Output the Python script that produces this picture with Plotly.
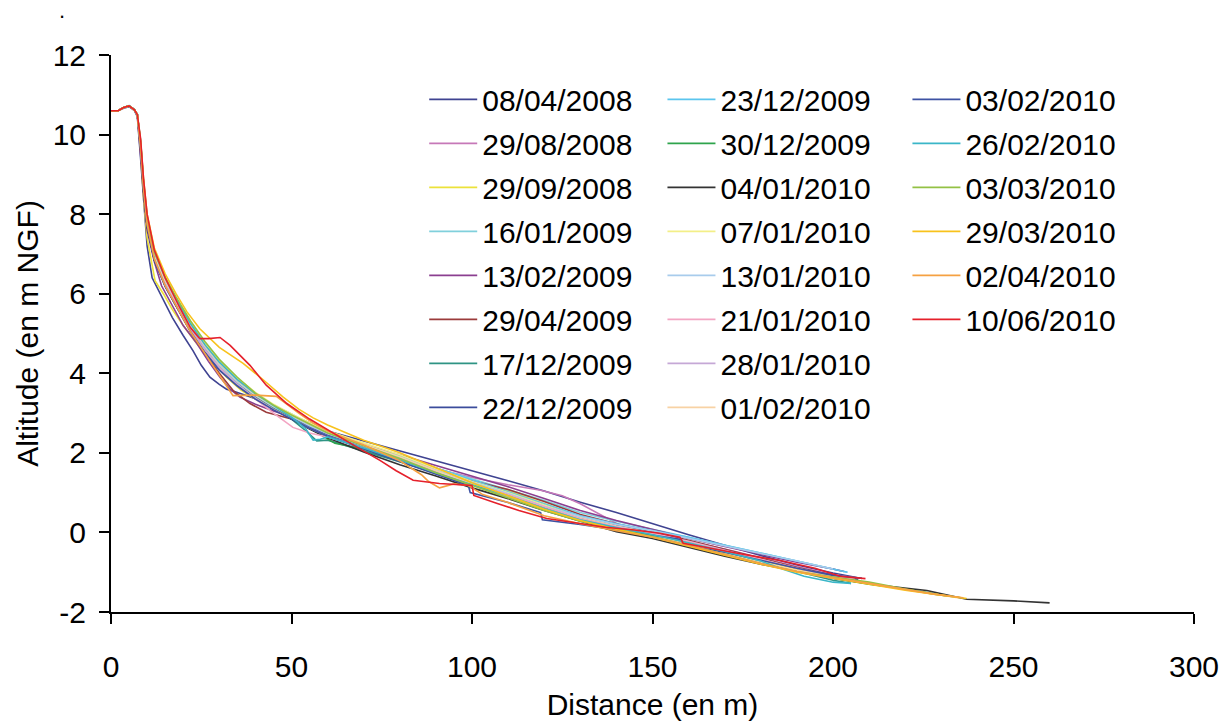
import plotly.graph_objects as go

dates = ["08/04/2008", "29/08/2008", "29/09/2008", "16/01/2009", "13/02/2009", "29/04/2009",
         "17/12/2009", "22/12/2009", "23/12/2009", "30/12/2009", "04/01/2010", "07/01/2010",
         "13/01/2010", "21/01/2010", "28/01/2010", "01/02/2010", "03/02/2010", "26/02/2010",
         "03/03/2010", "29/03/2010", "02/04/2010", "10/06/2010"]

colors = ["#3f4391", "#c678b8", "#ece23a", "#80d0dc", "#8b3f90", "#9b3b3b",
          "#2e9484", "#3b4c9c", "#5bc5ee", "#2ea44c", "#333333", "#f3ef88",
          "#a8ccec", "#f3a5c3", "#c5a8d6", "#f8d2a4", "#3d52a3", "#3ab6c8",
          "#93c145", "#f8c21c", "#f5a142", "#e5202b"]

x_01 = [0, 2, 3.5, 5, 6.5, 7.3, 8.2, 9, 10, 11.4, 13.6, 17, 20, 22.7, 25, 27.4, 30, 32, 34, 38, 42, 46, 50, 55, 60, 70, 80, 90, 100, 110, 120, 130, 140, 150, 160, 170, 180, 190, 200, 208]
y_01 = [10.6, 10.6, 10.66, 10.7, 10.6, 10.45, 9.4, 8.3, 7.2, 6.4, 6.0, 5.4, 4.95, 4.57, 4.2, 3.9, 3.72, 3.6, 3.55, 3.42, 3.3, 3.12, 2.95, 2.75, 2.55, 2.3, 2.06, 1.81, 1.56, 1.3, 1.04, 0.76, 0.5, 0.22, -0.06, -0.32, -0.58, -0.82, -1.02, -1.16]

x_02 = [0, 2, 3.5, 5, 6.5, 7.3, 8.2, 9, 10, 12, 15, 18, 22, 26, 30, 35, 40, 45, 50, 55, 60, 70, 80, 90, 100, 110, 119, 125, 130, 135, 141, 150, 160, 170, 180, 190, 200, 207]
y_02 = [10.6, 10.6, 10.68, 10.72, 10.62, 10.5, 9.8, 8.8, 7.9, 7.0, 6.3, 5.75, 5.1, 4.55, 4.1, 3.7, 3.35, 3.1, 2.85, 2.62, 2.42, 2.12, 1.85, 1.6, 1.38, 1.2, 1.06, 0.92, 0.72, 0.48, 0.18, -0.02, -0.22, -0.42, -0.64, -0.86, -1.06, -1.15]

x_03 = [0, 2, 3.5, 5, 6.5, 7.3, 8.2, 9, 10, 12.2, 14.5, 17, 20, 24, 28, 32, 36, 40, 45, 50, 55, 60, 70, 80, 90, 100, 110, 120, 130, 140, 150, 160, 170, 180, 190, 200, 206]
y_03 = [10.6, 10.6, 10.68, 10.72, 10.62, 10.5, 9.6, 8.4, 7.4, 6.33, 6.0, 5.6, 5.2, 4.72, 4.3, 3.9, 3.58, 3.35, 3.12, 2.95, 2.75, 2.55, 2.22, 1.92, 1.62, 1.32, 1.05, 0.72, 0.4, 0.15, -0.05, -0.25, -0.48, -0.7, -0.92, -1.12, -1.2]

x_04 = [0, 2, 3.5, 5, 6.5, 7.3, 8.2, 9, 10, 12, 15, 18, 22, 26, 30, 35, 40, 45, 50, 55, 60, 70, 80, 90, 100, 110, 120, 130, 140, 150, 160, 170, 180, 190, 200, 204]
y_04 = [10.6, 10.6, 10.68, 10.73, 10.63, 10.5, 9.7, 8.7, 7.8, 6.95, 6.3, 5.8, 5.2, 4.7, 4.25, 3.8, 3.45, 3.18, 2.95, 2.72, 2.52, 2.2, 1.9, 1.62, 1.35, 1.08, 0.8, 0.5, 0.28, 0.08, -0.12, -0.32, -0.52, -0.72, -0.92, -1.0]

x_05 = [0, 2, 3.5, 5, 6.5, 7.3, 8.2, 9, 10, 12, 14, 17.2, 20, 23.8, 27, 30.2, 33, 35.7, 40, 45, 50, 55, 60, 70, 80, 90, 100, 110, 120, 130, 140, 150, 160, 170, 180, 190, 200, 203]
y_05 = [10.6, 10.6, 10.68, 10.72, 10.62, 10.48, 9.5, 8.5, 7.6, 6.8, 6.2, 5.65, 5.2, 4.75, 4.3, 3.9, 3.6, 3.4, 3.22, 3.05, 2.9, 2.68, 2.5, 2.2, 1.95, 1.68, 1.42, 1.15, 0.85, 0.55, 0.3, 0.08, -0.15, -0.35, -0.55, -0.75, -0.92, -0.98]

x_06 = [0, 2, 3.5, 5, 6.5, 7.3, 8.2, 9, 10, 12, 15, 18, 22, 26, 30, 34, 38.5, 43, 47, 50, 55, 60, 70, 80, 90, 100, 110, 120, 130, 140, 150, 160, 170, 180, 190, 200, 206]
y_06 = [10.6, 10.6, 10.68, 10.72, 10.62, 10.5, 9.6, 8.6, 7.7, 6.9, 6.2, 5.7, 5.05, 4.5, 4.0, 3.55, 3.24, 3.02, 2.92, 2.85, 2.65, 2.45, 2.15, 1.85, 1.55, 1.3, 1.08, 0.78, 0.45, 0.22, 0.02, -0.2, -0.42, -0.65, -0.88, -1.08, -1.15]

x_07 = [0, 2, 3.5, 5, 6.5, 7.3, 8.2, 9, 10, 12, 15, 18, 22, 26, 30, 35, 40, 45, 50, 54, 57, 60, 70, 80, 90, 100, 110, 120, 130, 140, 150, 160, 170, 180, 190, 200, 205]
y_07 = [10.6, 10.6, 10.68, 10.72, 10.62, 10.5, 9.7, 8.7, 7.8, 6.95, 6.25, 5.75, 5.15, 4.62, 4.2, 3.78, 3.42, 3.12, 2.85, 2.55, 2.3, 2.32, 2.05, 1.78, 1.5, 1.22, 0.95, 0.62, 0.35, 0.15, -0.05, -0.25, -0.5, -0.75, -0.98, -1.2, -1.28]

x_08 = [0, 2, 3.5, 5, 6.5, 7.3, 8.2, 9, 10, 12, 15, 18, 22, 26, 30, 35, 40, 45, 50, 55, 60, 70, 80, 90, 100, 110, 120, 130, 140, 150, 160, 170, 180, 190, 200, 207]
y_08 = [10.6, 10.6, 10.68, 10.72, 10.62, 10.5, 9.7, 8.6, 7.7, 6.85, 6.2, 5.7, 5.1, 4.55, 4.1, 3.7, 3.38, 3.12, 2.88, 2.65, 2.45, 2.15, 1.85, 1.55, 1.25, 0.98, 0.7, 0.38, 0.18, 0.0, -0.22, -0.45, -0.68, -0.9, -1.08, -1.18]

x_09 = [0, 2, 3.5, 5, 6.5, 7.3, 8.2, 9, 10, 12, 15, 18, 22, 26, 30, 35, 40, 45, 50, 55, 60, 70, 80, 90, 100, 110, 120, 130, 140, 150, 158, 159, 170, 180, 190, 200, 204]
y_09 = [10.6, 10.6, 10.68, 10.73, 10.63, 10.5, 9.8, 8.8, 7.9, 7.0, 6.35, 5.82, 5.22, 4.7, 4.25, 3.82, 3.48, 3.2, 2.98, 2.72, 2.5, 2.2, 1.92, 1.62, 1.32, 1.02, 0.72, 0.42, 0.22, 0.05, -0.08, -0.1, -0.32, -0.52, -0.72, -0.92, -1.0]

x_10 = [0, 2, 3.5, 5, 6.5, 7.3, 8.2, 9, 10, 12, 15, 18, 22, 26, 30, 35, 40, 45, 50, 55, 60, 62, 70, 80, 90, 100, 110, 120, 130, 140, 150, 160, 170, 180, 190, 200, 210, 220, 232]
y_10 = [10.6, 10.6, 10.68, 10.72, 10.62, 10.5, 9.7, 8.7, 7.8, 6.9, 6.25, 5.75, 5.12, 4.6, 4.15, 3.75, 3.4, 3.12, 2.88, 2.62, 2.35, 2.24, 2.1, 1.78, 1.48, 1.2, 0.92, 0.6, 0.32, 0.12, -0.08, -0.3, -0.55, -0.78, -0.98, -1.15, -1.3, -1.42, -1.6]

x_11 = [0, 2, 3.5, 5, 6.5, 7.3, 8.2, 9, 10, 12, 15, 18, 22, 26, 30, 35, 40, 45, 50, 55, 60, 70, 80, 90, 100, 110, 120, 130, 140, 150, 160, 170, 180, 190, 200, 213, 226, 237, 250, 260]
y_11 = [10.6, 10.6, 10.68, 10.72, 10.62, 10.5, 9.7, 8.6, 7.7, 6.85, 6.2, 5.7, 5.08, 4.55, 4.1, 3.72, 3.38, 3.1, 2.85, 2.6, 2.38, 2.02, 1.7, 1.42, 1.12, 0.85, 0.55, 0.28, 0.02, -0.15, -0.38, -0.6, -0.8, -0.98, -1.15, -1.33, -1.46, -1.68, -1.72, -1.77]

x_12 = [0, 2, 3.5, 5, 6.5, 7.3, 8.2, 9, 10, 12, 15, 18, 22, 26, 30, 35, 40, 45, 50, 55, 60, 70, 80, 90, 100, 110, 120, 130, 140, 150, 160, 170, 180, 190, 200, 206]
y_12 = [10.6, 10.6, 10.68, 10.72, 10.62, 10.5, 9.8, 8.8, 7.9, 7.05, 6.4, 5.9, 5.3, 4.78, 4.32, 3.88, 3.52, 3.22, 2.98, 2.75, 2.55, 2.25, 1.95, 1.6, 1.28, 1.0, 0.68, 0.38, 0.16, -0.02, -0.24, -0.46, -0.68, -0.9, -1.1, -1.18]

x_13 = [0, 2, 3.5, 5, 6.5, 7.3, 8.2, 9, 10, 12, 15, 18, 22, 26, 30, 35, 40, 45, 50, 55, 60, 70, 80, 90, 100, 110, 120, 130, 140, 150, 160, 170, 180, 190, 200]
y_13 = [10.6, 10.6, 10.68, 10.72, 10.62, 10.5, 9.75, 8.75, 7.85, 6.95, 6.3, 5.8, 5.18, 4.66, 4.2, 3.78, 3.44, 3.16, 2.92, 2.68, 2.48, 2.16, 1.86, 1.56, 1.26, 0.98, 0.66, 0.4, 0.2, 0.04, -0.15, -0.33, -0.52, -0.72, -0.92]

x_14 = [0, 2, 3.5, 5, 6.5, 7.3, 8.2, 9, 10, 12, 15, 18, 22, 26, 30, 35, 40, 45, 50.4, 55, 60, 70, 80, 90, 100, 110, 120, 130, 140, 150, 160, 170, 180, 190, 200, 206]
y_14 = [10.6, 10.6, 10.68, 10.72, 10.62, 10.5, 9.7, 8.7, 7.8, 6.9, 6.25, 5.75, 5.12, 4.6, 4.15, 3.72, 3.35, 3.0, 2.64, 2.5, 2.4, 2.12, 1.82, 1.52, 1.22, 0.95, 0.65, 0.35, 0.15, -0.02, -0.22, -0.45, -0.68, -0.9, -1.1, -1.18]

x_15 = [0, 2, 3.5, 5, 6.5, 7.3, 8.2, 9, 10, 12, 15, 18, 22, 26, 30, 35, 40, 45, 50, 55, 60, 70, 80, 90, 100, 110, 120, 130, 140, 150, 160, 170, 180, 190, 200, 207]
y_15 = [10.6, 10.6, 10.68, 10.72, 10.62, 10.5, 9.7, 8.65, 7.75, 6.88, 6.22, 5.72, 5.1, 4.58, 4.12, 3.72, 3.38, 3.1, 2.86, 2.62, 2.42, 2.12, 1.82, 1.5, 1.2, 0.9, 0.58, 0.3, 0.08, -0.1, -0.32, -0.55, -0.78, -0.98, -1.15, -1.22]

x_16 = [0, 2, 3.5, 5, 6.5, 7.3, 8.2, 9, 10, 12, 15, 18, 22, 26, 30, 35, 40, 45, 50, 55, 60, 70, 80, 90, 100, 110, 120, 130, 140, 150, 160, 170, 180, 190, 200, 210, 220, 227, 235]
y_16 = [10.6, 10.6, 10.68, 10.72, 10.62, 10.5, 9.75, 8.75, 7.85, 7.0, 6.35, 5.85, 5.22, 4.7, 4.25, 3.82, 3.46, 3.18, 2.94, 2.72, 2.52, 2.2, 1.9, 1.55, 1.22, 0.92, 0.6, 0.32, 0.1, -0.08, -0.3, -0.52, -0.75, -0.95, -1.12, -1.28, -1.44, -1.53, -1.65]

x_17 = [0, 2, 3.5, 5, 6.5, 7.3, 8.2, 9, 10, 12, 15, 18, 22, 26, 30, 35, 40, 45, 50, 55, 60, 70, 80, 90, 99, 99.5, 110, 119, 119.5, 130, 140, 150, 158, 158.5, 170, 180, 190, 200, 208]
y_17 = [10.6, 10.6, 10.68, 10.72, 10.62, 10.5, 9.7, 8.6, 7.7, 6.85, 6.18, 5.68, 5.05, 4.52, 4.08, 3.68, 3.35, 3.08, 2.85, 2.62, 2.42, 2.1, 1.78, 1.45, 1.18, 1.0, 0.75, 0.5, 0.32, 0.2, 0.06, -0.08, -0.18, -0.32, -0.5, -0.7, -0.9, -1.08, -1.15]

x_18 = [0, 2, 3.5, 5, 6.5, 7.3, 8.2, 9, 10, 12, 15, 18, 22, 26, 30, 35, 40, 45, 50, 54, 56, 58, 60, 70, 80, 90, 100, 110, 120, 130, 140, 150, 160, 170, 180, 186, 192, 200, 205]
y_18 = [10.6, 10.6, 10.68, 10.73, 10.63, 10.5, 9.85, 8.85, 7.95, 7.05, 6.4, 5.88, 5.25, 4.72, 4.28, 3.84, 3.48, 3.18, 2.9, 2.6, 2.32, 2.34, 2.4, 2.12, 1.82, 1.5, 1.2, 0.92, 0.6, 0.32, 0.12, -0.06, -0.26, -0.48, -0.72, -0.92, -1.1, -1.25, -1.28]

x_19 = [0, 2, 3.5, 5, 6.5, 7.3, 8.2, 9, 10, 12, 15, 18, 22, 26, 30, 35, 40, 45, 50, 55, 60, 70, 80, 90, 100, 110, 120, 130, 140, 150, 160, 170, 180, 190, 200, 210, 220, 228, 236]
y_19 = [10.6, 10.6, 10.68, 10.72, 10.62, 10.5, 9.8, 8.8, 7.9, 7.05, 6.42, 5.92, 5.32, 4.8, 4.35, 3.9, 3.5, 3.2, 2.95, 2.72, 2.5, 2.18, 1.86, 1.5, 1.18, 0.88, 0.55, 0.28, 0.08, -0.1, -0.32, -0.55, -0.78, -0.98, -1.12, -1.25, -1.42, -1.55, -1.65]

x_20 = [0, 2, 3.5, 5, 6.5, 7.3, 8.2, 9, 10, 12, 15, 18, 21, 24.6, 30, 36.6, 42, 47.7, 52, 56, 60, 70, 80, 90, 100, 110, 120, 130, 140, 150, 160, 170, 180, 190, 200, 210, 220, 228, 237]
y_20 = [10.6, 10.6, 10.68, 10.72, 10.62, 10.5, 9.85, 8.9, 8.0, 7.15, 6.5, 6.0, 5.55, 5.12, 4.65, 4.25, 3.85, 3.4, 3.1, 2.88, 2.7, 2.32, 2.0, 1.62, 1.25, 0.92, 0.58, 0.3, 0.08, -0.12, -0.35, -0.58, -0.8, -1.0, -1.15, -1.3, -1.45, -1.55, -1.66]

x_21 = [0, 2, 3.5, 5, 6.5, 7.3, 8.2, 9, 10, 12, 15, 18, 22, 26, 30, 33.8, 40, 45.8, 52, 56, 60, 70, 80, 86, 88, 91, 95, 99, 103, 110, 120, 130, 140, 150, 160, 170, 180, 190, 200, 210, 220, 228, 236]
y_21 = [10.6, 10.6, 10.68, 10.72, 10.62, 10.5, 9.7, 8.65, 7.75, 6.88, 6.2, 5.7, 5.05, 4.5, 3.95, 3.44, 3.45, 3.42, 3.0, 2.75, 2.55, 2.2, 1.8, 1.45, 1.28, 1.12, 1.22, 1.18, 0.95, 0.75, 0.42, 0.22, 0.04, -0.12, -0.32, -0.55, -0.78, -0.98, -1.14, -1.28, -1.44, -1.55, -1.64]

x_22 = [0, 2, 3.5, 5, 6.5, 7.3, 8.2, 9, 10, 12, 15, 19, 22, 24.6, 27, 30.2, 33, 38.5, 43, 48.7, 55, 61.5, 68, 74.5, 79, 83.7, 91, 100, 100.5, 107, 113, 120.7, 130, 137, 145, 152, 157.6, 158.5, 165, 175, 185, 195, 202, 209]
y_22 = [10.6, 10.6, 10.68, 10.72, 10.62, 10.5, 9.9, 8.9, 8.0, 7.1, 6.4, 5.66, 5.15, 4.87, 4.87, 4.9, 4.7, 4.2, 3.7, 3.24, 2.85, 2.49, 2.15, 1.81, 1.55, 1.31, 1.23, 1.18, 0.93, 0.73, 0.55, 0.35, 0.22, 0.13, 0.06, -0.02, -0.12, -0.27, -0.38, -0.55, -0.7, -0.9, -1.1, -1.16]

xs = [x_01, x_02, x_03, x_04, x_05, x_06, x_07, x_08, x_09, x_10, x_11,
      x_12, x_13, x_14, x_15, x_16, x_17, x_18, x_19, x_20, x_21, x_22]
ys = [y_01, y_02, y_03, y_04, y_05, y_06, y_07, y_08, y_09, y_10, y_11,
      y_12, y_13, y_14, y_15, y_16, y_17, y_18, y_19, y_20, y_21, y_22]

x_ticks = [0, 50, 100, 150, 200, 250, 300]
y_ticks = [-2, 0, 2, 4, 6, 8, 10, 12]
y_tick_labels = ["-2", "0", "2", "4", "6", "8", "10", "12"]

FONT = "Liberation Sans, Arial, sans-serif"

fig = go.Figure()
for i, (d, c, xv, yv) in enumerate(zip(dates, colors, xs, ys)):
    leg = "legend" if i < 8 else ("legend2" if i < 16 else "legend3")
    fig.add_trace(go.Scatter(x=xv, y=yv, mode="lines", name=d,
                             line=dict(color=c, width=1.6),
                             legend=leg, legendgroup=d))

leg_common = dict(xanchor="left", yanchor="top", bgcolor="rgba(0,0,0,0)",
                  font=dict(family=FONT, size=30, color="black"),
                  tracegroupgap=2, itemwidth=48)

fig.update_layout(
    width=1216, height=713,
    margin=dict(l=103, r=30, t=47, b=109),
    plot_bgcolor="white", paper_bgcolor="white",
    font=dict(family=FONT, size=30, color="black"),
    showlegend=True,
    legend=dict(x=0.2892, y=0.967, **leg_common),
    legend2=dict(x=0.5092, y=0.967, **leg_common),
    legend3=dict(x=0.7354, y=0.967, **leg_common),
    xaxis=dict(range=[0, 300], tickvals=x_ticks, showgrid=False, zeroline=False,
               showline=True, linecolor="black", linewidth=2, automargin=False,
               ticks="outside", ticklen=10, tickwidth=2, tickcolor="black",
               ticklabelstandoff=17,
               tickfont=dict(family=FONT, size=30, color="black"),
               title=dict(text="Distance (en m)", font=dict(family=FONT, size=30, color="black"), standoff=22)),
    yaxis=dict(range=[-2, 12], tickvals=y_ticks, ticktext=y_tick_labels,
               showgrid=False, zeroline=False, automargin=False,
               showline=True, linecolor="black", linewidth=2,
               ticks="outside", ticklen=10, tickwidth=2, tickcolor="black",
               ticklabelstandoff=7,
               tickfont=dict(family=FONT, size=30, color="black"),
               title=dict(text="Altitude (en m NGF)", font=dict(family=FONT, size=30, color="black"), standoff=5)),
    annotations=[dict(text=".", xref="paper", yref="paper", x=-0.0455, y=1.079,
                      xanchor="center", yanchor="middle",
                      showarrow=False, font=dict(family=FONT, size=22, color="black"))],
)

fig.write_html("out.html")
